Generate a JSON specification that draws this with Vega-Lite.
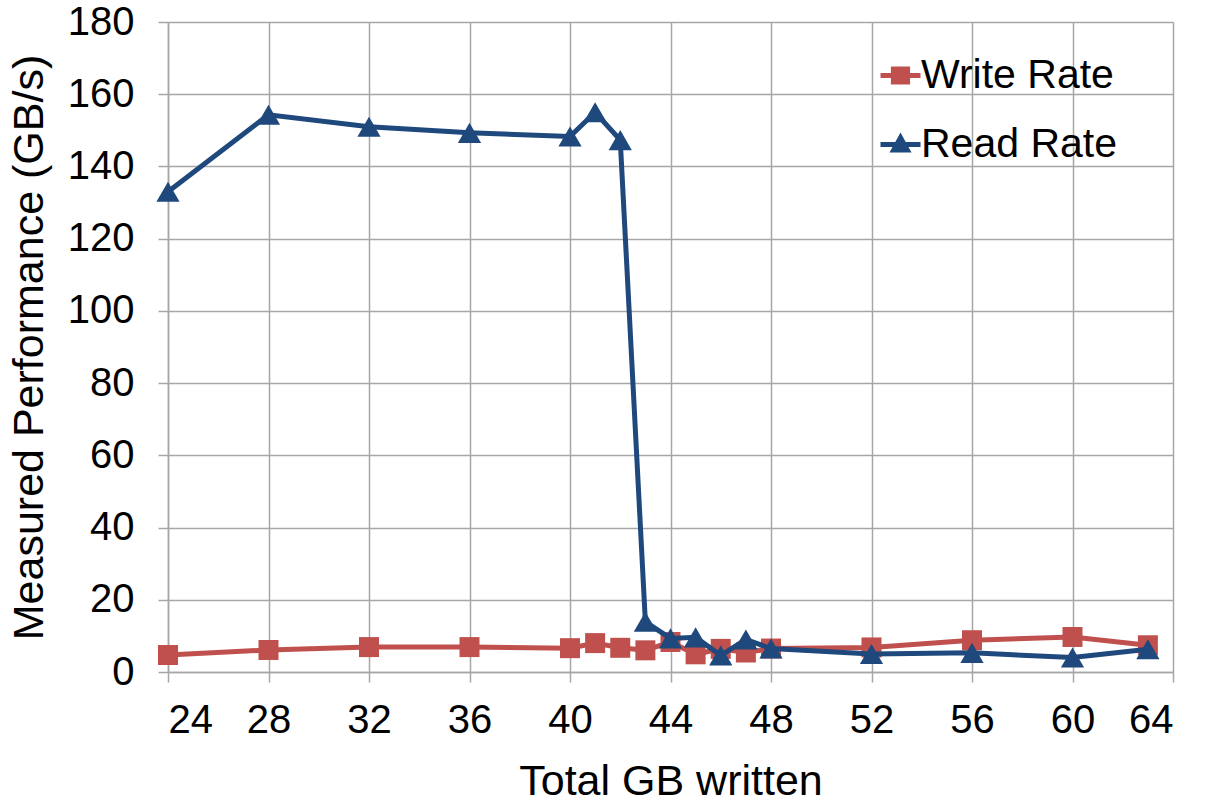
{
  "$schema": "https://vega.github.io/schema/vega-lite/v6.json",
  "width": 1005,
  "height": 650,
  "autosize": {"type": "none"},
  "padding": {"left": 168, "top": 22, "right": 38, "bottom": 131},
  "background": "white",
  "data": {
    "values": [
      {"gb": 24, "series": "Write Rate", "rate": 4.7},
      {"gb": 28, "series": "Write Rate", "rate": 6.1},
      {"gb": 32, "series": "Write Rate", "rate": 6.9},
      {"gb": 36, "series": "Write Rate", "rate": 6.9},
      {"gb": 40, "series": "Write Rate", "rate": 6.6},
      {"gb": 41, "series": "Write Rate", "rate": 8.0},
      {"gb": 42, "series": "Write Rate", "rate": 6.7},
      {"gb": 43, "series": "Write Rate", "rate": 6.0},
      {"gb": 44, "series": "Write Rate", "rate": 8.3},
      {"gb": 45, "series": "Write Rate", "rate": 4.9},
      {"gb": 46, "series": "Write Rate", "rate": 6.4},
      {"gb": 47, "series": "Write Rate", "rate": 5.4},
      {"gb": 48, "series": "Write Rate", "rate": 6.5},
      {"gb": 52, "series": "Write Rate", "rate": 6.8},
      {"gb": 56, "series": "Write Rate", "rate": 8.8},
      {"gb": 60, "series": "Write Rate", "rate": 9.7},
      {"gb": 63, "series": "Write Rate", "rate": 7.4},
      {"gb": 24, "series": "Read Rate", "rate": 133},
      {"gb": 28, "series": "Read Rate", "rate": 154.3},
      {"gb": 32, "series": "Read Rate", "rate": 151},
      {"gb": 36, "series": "Read Rate", "rate": 149.3},
      {"gb": 40, "series": "Read Rate", "rate": 148.3},
      {"gb": 41, "series": "Read Rate", "rate": 155},
      {"gb": 42, "series": "Read Rate", "rate": 147.3},
      {"gb": 43, "series": "Read Rate", "rate": 13.9},
      {"gb": 44, "series": "Read Rate", "rate": 9.3},
      {"gb": 45, "series": "Read Rate", "rate": 9.6},
      {"gb": 46, "series": "Read Rate", "rate": 4.6},
      {"gb": 47, "series": "Read Rate", "rate": 9.0},
      {"gb": 48, "series": "Read Rate", "rate": 6.5},
      {"gb": 52, "series": "Read Rate", "rate": 5.0},
      {"gb": 56, "series": "Read Rate", "rate": 5.3},
      {"gb": 60, "series": "Read Rate", "rate": 4.0},
      {"gb": 63, "series": "Read Rate", "rate": 6.3}
    ]
  },
  "encoding": {
    "x": {
      "field": "gb", "type": "quantitative",
      "scale": {"domain": [24, 64], "nice": false, "zero": false},
      "axis": {"values": [24, 28, 32, 36, 40, 44, 48, 52, 56, 60, 64], "title": "Total GB written", "labelPadding": 18, "titlePadding": 20}
    },
    "y": {
      "field": "rate", "type": "quantitative",
      "scale": {"domain": [0, 180], "nice": false},
      "axis": {"values": [0, 20, 40, 60, 80, 100, 120, 140, 160, 180], "title": "Measured Performance (GB/s)", "labelPadding": 24, "titlePadding": 16}
    }
  },
  "layer": [
    {
      "transform": [{"filter": "datum.series === 'Write Rate'"}],
      "mark": {"type": "line", "color": "#C0504D", "strokeWidth": 5},
      "encoding": {}
    },
    {
      "transform": [{"filter": "datum.series === 'Write Rate'"}],
      "mark": {"type": "point", "filled": true, "opacity": 1, "size": 400, "shape": "square", "color": "#C0504D"},
      "encoding": {}
    },
    {
      "transform": [{"filter": "datum.series === 'Read Rate'"}],
      "mark": {"type": "line", "color": "#1F497D", "strokeWidth": 5},
      "encoding": {}
    },
    {
      "transform": [{"filter": "datum.series === 'Read Rate'"}],
      "mark": {"type": "point", "filled": true, "opacity": 1, "size": 540, "shape": "triangle-up", "color": "#1F497D"},
      "encoding": {}
    },
    {
      "transform": [{"filter": "datum.gb < 0"}],
      "mark": {"type": "point", "filled": true, "opacity": 1},
      "encoding": {
        "color": {
          "field": "series", "type": "nominal",
          "scale": {"domain": ["Write Rate", "Read Rate"], "range": ["#C0504D", "#1F497D"]},
          "legend": {
            "title": null,
            "orient": "none",
            "legendX": 712,
            "legendY": 33,
            "symbolSize": 1600,
            "symbolStrokeWidth": 0,
            "symbolOpacity": 1,
            "labelFontSize": 41,
            "labelLimit": 500,
            "labelOffset": 0,
            "rowPadding": 27,
            "labelColor": "black"
          }
        },
        "shape": {
          "field": "series", "type": "nominal",
          "scale": {"domain": ["Write Rate", "Read Rate"], "range": ["M-1,-0.13H1V0.13H-1Z M-0.48,-0.45H0.48V0.45H-0.48Z", "M-1,-0.13H1V0.13H-1Z M0,-0.6L0.55,0.4H-0.55Z"]}
        }
      }
    }
  ],
  "config": {
    "font": "Liberation Sans",
    "view": {"stroke": null},
    "axis": {
      "labelFontSize": 40,
      "titleFontSize": 43,
      "titleFontWeight": "normal",
      "labelColor": "black",
      "titleColor": "black",
      "gridColor": "#a6a6a6",
      "gridWidth": 1.5,
      "domainColor": "#a6a6a6",
      "domainWidth": 1.5,
      "tickColor": "#a6a6a6",
      "tickWidth": 1.5,
      "tickSize": 10
    }
  }
}
